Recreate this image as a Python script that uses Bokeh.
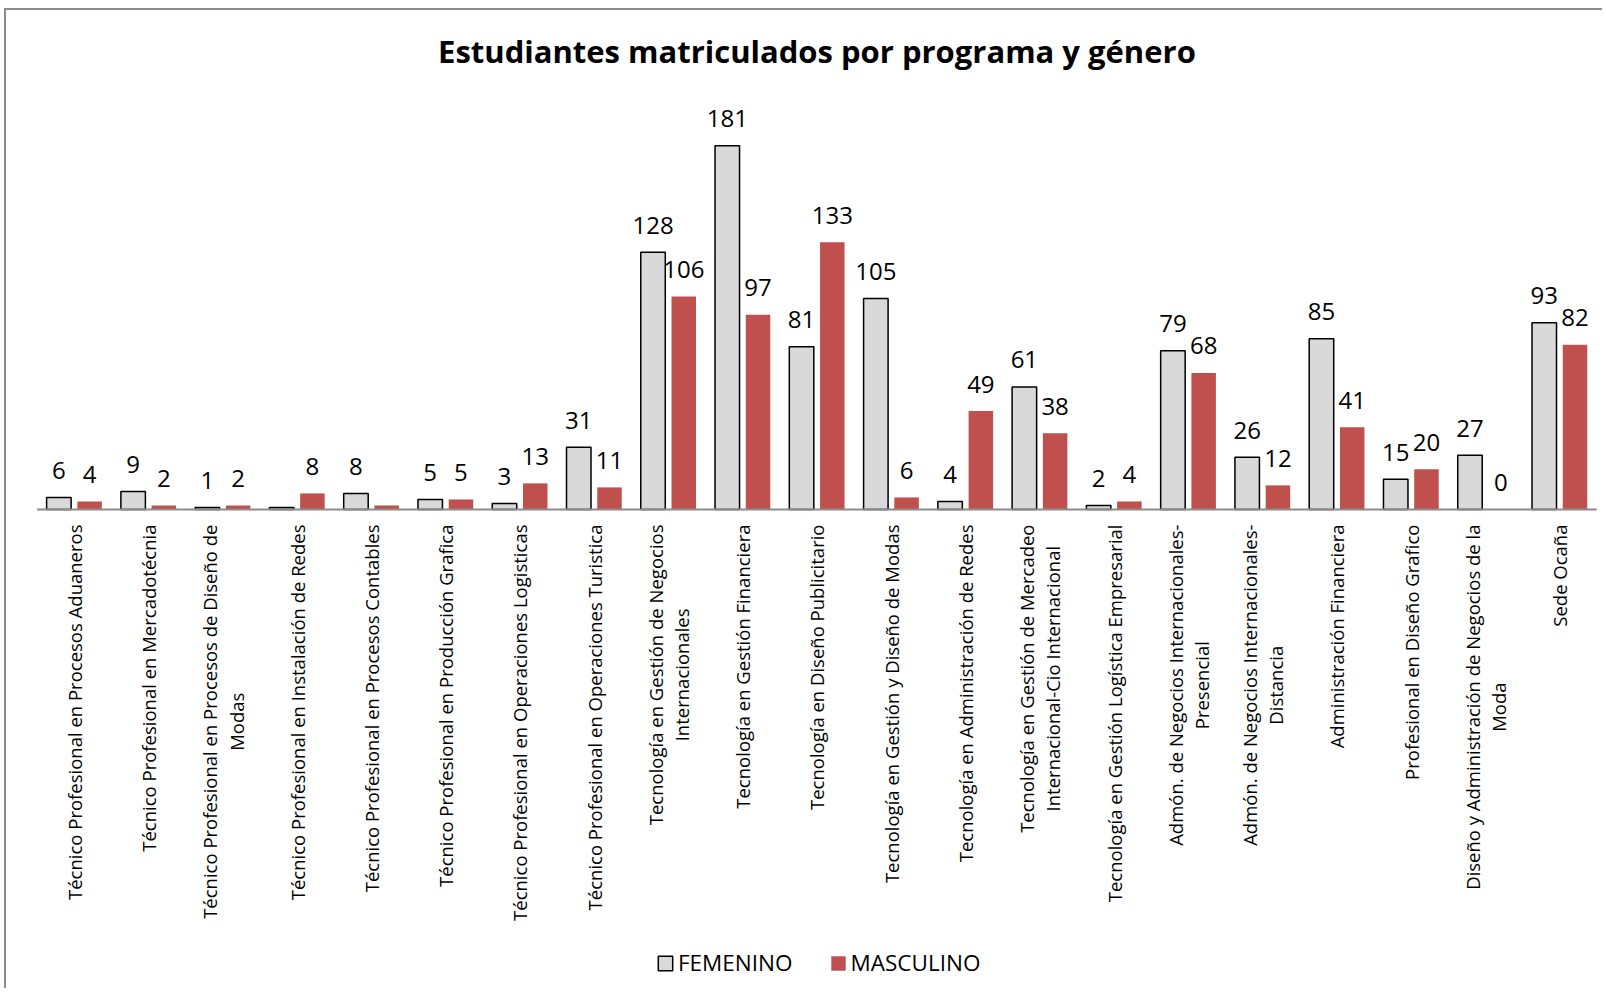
import numpy as np
from bokeh.plotting import figure
from bokeh.models import Range1d, Legend, LegendItem, ColumnDataSource, Label
from bokeh.embed import file_html
from bokeh.resources import INLINE
from bokeh.core.properties import value

programas = [
    "Técnico Profesional en Procesos Aduaneros",
    "Técnico Profesional en Mercadotécnia",
    "Técnico Profesional en Procesos de Diseño de\nModas",
    "Técnico Profesional en Instalación de Redes",
    "Técnico Profesional en Procesos Contables",
    "Técnico Profesional en Producción Grafica",
    "Técnico Profesional en Operaciones Logisticas",
    "Técnico Profesional en Operaciones Turistica",
    "Tecnología en Gestión de Negocios\nInternacionales",
    "Tecnología en Gestión Financiera",
    "Tecnología en Diseño Publicitario",
    "Tecnología en Gestión y Diseño de Modas",
    "Tecnología en Administración de Redes",
    "Tecnología en Gestión de Mercadeo\nInternacional-Cio Internacional",
    "Tecnología en Gestión Logística Empresarial",
    "Admón. de Negocios Internacionales-\nPresencial",
    "Admón. de Negocios Internacionales-\nDistancia",
    "Administración Financiera",
    "Profesional en Diseño Grafico",
    "Diseño y Administración de Negocios de la\nModa",
    "Sede Ocaña",
]
femenino = [6, 9, 1, 1, 8, 5, 3, 31, 128, 181, 81, 105, 4, 61, 2, 79, 26, 85, 15, 27, 93]
masculino = [4, 2, 2, 8, 2, 5, 13, 11, 106, 97, 133, 6, 49, 38, 4, 68, 12, 41, 20, 0, 82]
ocultas_fem = [3]
ocultas_masc = [4]
series = ["FEMENINO", "MASCULINO"]
titulo = "Estudiantes matriculados por programa y género"

n = len(programas)
centers = np.arange(n) + 0.5
lab_f = ["" if i in ocultas_fem else str(v) for i, v in enumerate(femenino)]
lab_m = ["" if i in ocultas_masc else str(v) for i, v in enumerate(masculino)]

src_f = ColumnDataSource(dict(x=centers - 0.207, top=femenino, lab=lab_f))
src_m = ColumnDataSource(dict(x=centers + 0.207, top=masculino, lab=lab_m))
src_cat = ColumnDataSource(dict(x=centers, y=np.zeros(n), txt=programas))

W, H = 1598, 980
pxu = 74.27
x0 = -30.6 / pxu
base_px = 499
ypx = 2.009

p = figure(width=W, height=H, output_backend="svg", toolbar_location=None,
           x_range=Range1d(x0, x0 + W / pxu),
           y_range=Range1d(-(H - base_px) / ypx, base_px / ypx),
           min_border=0, x_axis_location=None, y_axis_location=None)
p.styles = {"border-left": "2px solid #8c8c8c", "border-top": "2px solid #8c8c8c",
            "margin-left": "4px", "margin-top": "8px"}
p.outline_line_color = None
p.xgrid.visible = False
p.ygrid.visible = False
p.background_fill_color = "white"
p.border_fill_color = "white"

# category labels under the baseline
p.text(x="x", y="y", text="txt", source=src_cat, angle=np.pi / 2,
       anchor="center_right", text_align="center", y_offset=15,
       text_font=value("Open Sans"), text_font_size="18.5px",
       text_color="black", text_line_height=1.06)

r_f = p.vbar(x="x", top="top", width=0.33, source=src_f, fill_color="#D9D9D9",
             line_color="black", line_width=1.5)
r_m = p.vbar(x="x", top="top", width=0.33, source=src_m, fill_color="#C0504D",
             line_color=None)

p.segment(x0=[0], x1=[n], y0=[0], y1=[0], line_color="#8c8c8c", line_width=2)

for src in (src_f, src_m):
    p.text(x="x", y="top", text="lab", source=src, text_align="center",
           text_baseline="alphabetic", y_offset=-27, text_font=value("Open Sans"),
           text_font_size="24px", text_color="black")

p.add_layout(Label(x=n / 2, y=228, text=titulo, text_align="center",
                   text_baseline="middle", text_font="Open Sans",
                   text_font_style="bold", text_font_size="31px", text_color="black"))

legend = Legend(items=[LegendItem(label=series[0], renderers=[r_f]),
                       LegendItem(label=series[1], renderers=[r_m])],
                orientation="horizontal", location=(650, 12),
                border_line_color=None, background_fill_alpha=0,
                glyph_width=18, glyph_height=18, label_standoff=4, spacing=36,
                padding=0, margin=0, label_text_font="Open Sans",
                label_text_font_size="22.5px", label_text_color="black")
p.add_layout(legend)

open("out.html", "w").write(file_html(p, INLINE))
